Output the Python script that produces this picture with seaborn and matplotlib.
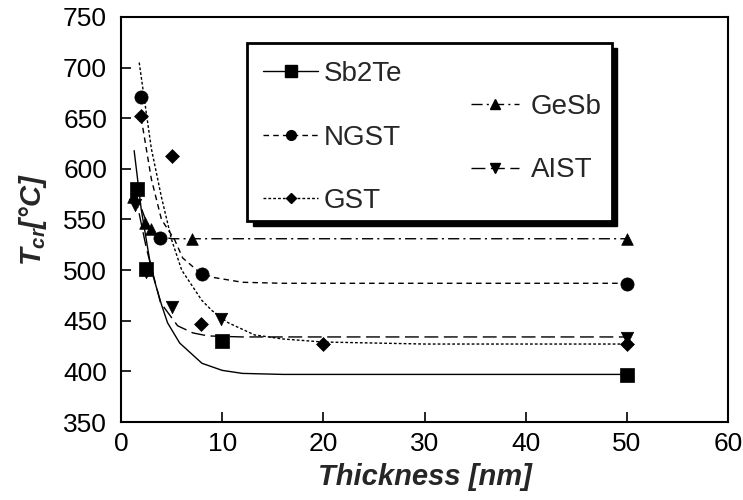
import matplotlib
matplotlib.use("Agg")
import matplotlib.pyplot as plt
import seaborn as sns
import pandas as pd
from matplotlib.lines import Line2D
from matplotlib.patches import Rectangle

# ---- measured data points ----
sb2te_x = [1.6, 2.5, 10, 50]
sb2te_y = [580, 501, 430, 396]
ngst_x = [2.0, 3.9, 8.0, 50]
ngst_y = [671, 532, 496, 486]
gst_x = [2.0, 5.0, 7.9, 20, 50]
gst_y = [652, 613, 447, 427, 427]
gesb_x = [1.2, 2.4, 3.0, 7.0, 50]
gesb_y = [572, 547, 541, 531, 531]
aist_x = [1.4, 2.5, 5.0, 9.9, 50]
aist_y = [564, 498, 464, 452, 433]

# ---- fitted curves ----
sb2te_fx = [1.3, 2.0, 3.0, 4.0, 4.6, 5.8, 8.0, 10, 12, 16, 50]
sb2te_fy = [618, 560, 500, 466, 448, 428, 408, 401, 398, 397, 397]
ngst_fx = [2.0, 3.0, 4.0, 5.3, 6.1, 7.5, 9.0, 12, 16, 50]
ngst_fy = [650, 590, 550, 530, 512, 500, 493, 488, 487, 487]
gst_fx = [1.8, 3.0, 4.0, 5.0, 6.0, 8.0, 9.0, 10.6, 13.2, 16, 20, 30, 50]
gst_fy = [705, 620, 572, 530, 500, 470, 460, 448, 436, 432, 429, 427, 427]
gesb_fx = [1.3, 2.5, 3.4, 5.0, 50]
gesb_fy = [580, 548, 534, 531, 531]
aist_fx = [1.4, 2.5, 3.9, 5.6, 7.1, 8.6, 12, 50]
aist_fy = [575, 522, 468, 445, 438, 435, 434, 434]

series = ["Sb2Te", "NGST", "GST", "GeSb", "AIST"]
markers = {"Sb2Te": "s", "NGST": "o", "GST": "D", "GeSb": "^", "AIST": "v"}
msize = {"Sb2Te": 100, "NGST": 90, "GST": 50, "GeSb": 70, "AIST": 80}
dashes = {"Sb2Te": (None, None), "NGST": (4, 3), "GST": (2, 1.5),
          "GeSb": (8, 3, 1.5, 3), "AIST": (10, 4)}

sns.set_style("ticks")
plt.rcParams['font.family'] = ['Liberation Sans', 'DejaVu Sans']
plt.rcParams['mathtext.fontset'] = 'custom'
plt.rcParams['mathtext.it'] = 'Liberation Sans:italic:bold'
plt.rcParams['mathtext.rm'] = 'Liberation Sans:bold'

fig = plt.figure(figsize=(7.43, 5.0), dpi=100)
ax = fig.add_axes([121/743, 1-422/500, (728-121)/743, (422-17)/500])

pts = {"Sb2Te": (sb2te_x, sb2te_y), "NGST": (ngst_x, ngst_y), "GST": (gst_x, gst_y),
       "GeSb": (gesb_x, gesb_y), "AIST": (aist_x, aist_y)}
fits = {"Sb2Te": (sb2te_fx, sb2te_fy), "NGST": (ngst_fx, ngst_fy), "GST": (gst_fx, gst_fy),
        "GeSb": (gesb_fx, gesb_fy), "AIST": (aist_fx, aist_fy)}

for s in series:
    fx, fy = fits[s]
    dfl = pd.DataFrame({"x": fx, "y": fy})
    sns.lineplot(data=dfl, x="x", y="y", ax=ax, color="black", lw=1.0, sort=False)
    line = ax.lines[-1]
    if dashes[s][0] is not None:
        line.set_dashes(dashes[s])
    px, py = pts[s]
    dfp = pd.DataFrame({"x": px, "y": py})
    sns.scatterplot(data=dfp, x="x", y="y", ax=ax, marker=markers[s], s=msize[s],
                    color="black", edgecolor="black", linewidth=0.5, zorder=5)

ax.set_xlim(0, 60)
ax.set_ylim(350, 750)
ax.set_xticks(range(0, 61, 10))
ax.set_yticks(range(350, 751, 50))
ax.tick_params(direction="in", length=7, width=1.2, labelsize=19, colors="black",
               top=False, right=False, pad=10)
ax.tick_params(axis="x", pad=7)
for sp in ax.spines.values():
    sp.set_visible(True)
    sp.set_linewidth(1.5)
    sp.set_color("black")

ax.set_xlabel("Thickness [nm]", fontsize=21, fontweight="bold", fontstyle="italic", labelpad=5)
ax.set_ylabel(r"$T_{cr}$[°C]", fontsize=21, fontweight="bold", fontstyle="italic", labelpad=10)

# legend box with shadow
x0, y0 = 12.5, 549
w, h = 36.0, 175
ax.add_patch(Rectangle((x0 + 0.5, y0 - 5), w, h, facecolor="black", edgecolor="black",
                       zorder=6))
ax.add_patch(Rectangle((x0, y0), w, h, facecolor="white", edgecolor="black", lw=2.0, zorder=7))

def handle(s):
    ls = '-' if dashes[s][0] is None else (0, dashes[s])
    return Line2D([], [], color="black", lw=1.0, linestyle=ls, marker=markers[s],
                  markersize={"Sb2Te": 8, "NGST": 7, "GST": 5.5, "GeSb": 6.5, "AIST": 7}[s])

leg1 = ax.legend([handle(s) for s in ["Sb2Te", "NGST", "GST"]], ["Sb2Te", "NGST", "GST"],
                 loc="upper left", bbox_to_anchor=(0.193, 0.953), frameon=False,
                 fontsize=20, handlelength=1.98, labelspacing=1.35, handletextpad=0.2)
leg1.set_zorder(8)
ax.add_artist(leg1)
leg2 = ax.legend([handle(s) for s in ["GeSb", "AIST"]], ["GeSb", "AIST"],
                 loc="upper left", bbox_to_anchor=(0.535, 0.872), frameon=False,
                 fontsize=20, handlelength=1.73, labelspacing=1.35, handletextpad=0.43)
leg2.set_zorder(8)

fig.savefig("out.png", dpi=100)
